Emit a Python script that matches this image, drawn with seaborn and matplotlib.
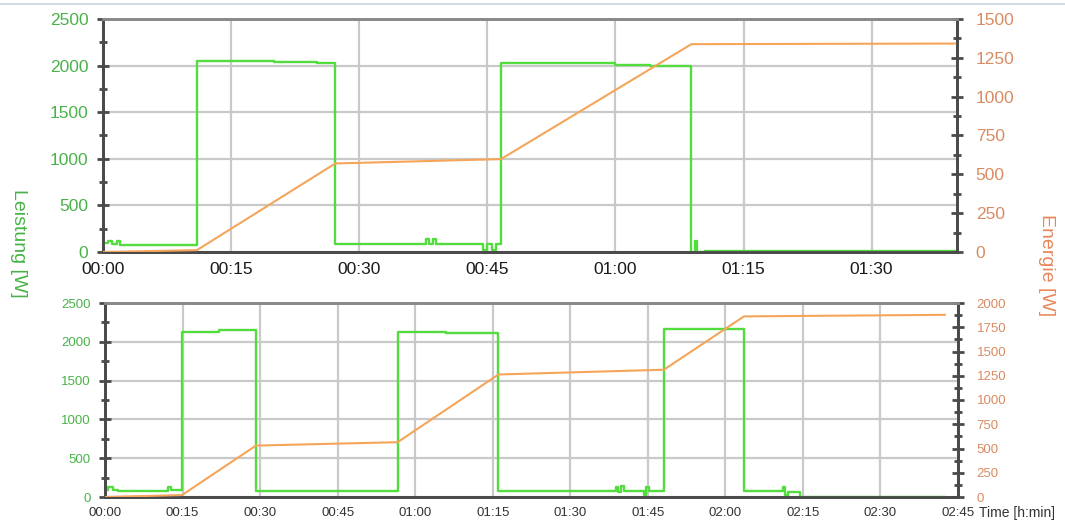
import numpy as np
import pandas as pd
import seaborn as sns
import matplotlib.pyplot as plt
from matplotlib.ticker import MultipleLocator, FuncFormatter
from matplotlib.lines import Line2D

sns.set_style('white')
plt.rcParams['font.family'] = ['Liberation Sans', 'DejaVu Sans']

# top run: power (W) as steps, energy (Wh) as polyline, time in minutes
top_p_time = [0, 0.6, 1.0, 1.6, 2.0, 11.0, 20, 25, 27.2, 37.8, 38.2, 38.6, 39.0,
              44.5, 45.0, 45.6, 46.0, 46.6, 55, 60, 64, 68.9, 69.3, 69.6, 70.5, 100]
top_p_val = [95, 120, 85, 115, 80, 2045, 2040, 2030, 85, 135, 90, 140, 85,
             25, 90, 20, 85, 2030, 2025, 2010, 2000, -10, 120, -5, 8, 8]
top_e_time = [0, 11.0, 27.2, 46.6, 68.9, 99.8]
top_e_val = [0, 12, 570, 598, 1338, 1342]

# bottom run
bot_p_time = [0, 0.5, 1.5, 2.5, 11.5, 12.2, 12.8, 14.9, 22, 29.2, 56.6, 66, 76.1,
              98.8, 99.3, 99.8, 100.4, 104.2, 104.7, 105.3, 108.1, 115, 123.7,
              131.2, 131.6, 132.2, 134.5, 162.5]
bot_p_val = [90, 130, 85, 80, 80, 125, 85, 2125, 2150, 80, 2120, 2110, 80,
             130, 60, 140, 80, 20, 130, 80, 2165, 2160, 80,
             130, 20, 70, 5, 5]
bot_e_time = [0, 14.9, 29.2, 56.6, 76.1, 108.1, 123.6, 162.5]
bot_e_val = [0, 20, 530, 565, 1263, 1312, 1862, 1878]

green = '#52dc3e'
orange = '#f5a55a'
green_txt = '#49b248'
orange_txt = '#d98b62'

fig = plt.figure(figsize=(10.65, 5.23), dpi=100)
fig.add_artist(Line2D([0, 1], [1 - 4 / 523, 1 - 4 / 523], color='#cdd4e0', lw=1.2))


def hhmm(v, pos):
    v = int(round(v))
    return '%02d:%02d' % (v // 60, v % 60)


def style_panel(ax, ax2, xmax, emax, fs_x, fs_y, xcol):
    ax.set_xlim(0, xmax)
    ax.set_ylim(0, 2500)
    ax2.set_ylim(0, emax)
    ax.xaxis.set_major_locator(MultipleLocator(15))
    ax.xaxis.set_minor_locator(MultipleLocator(7.5))
    ax.xaxis.set_major_formatter(FuncFormatter(hhmm))
    ax.yaxis.set_major_locator(MultipleLocator(500))
    ax.yaxis.set_minor_locator(MultipleLocator(250))
    ax2.yaxis.set_major_locator(MultipleLocator(250))
    ax2.yaxis.set_minor_locator(MultipleLocator(125))
    ax.grid(True, which='major', color='#c9c9c9', lw=1.6)
    ax.set_axisbelow(True)
    for a in (ax, ax2):
        for s in a.spines.values():
            s.set_visible(True)
            s.set_color('#4a4a4a')
            s.set_linewidth(2)
        a.spines['top'].set_color('#8a8a8a')
    ax.tick_params(axis='x', which='major', direction='inout', length=9, width=2,
                   color='#4a4a4a', labelsize=fs_x, labelcolor=xcol, pad=3)
    ax.tick_params(axis='x', which='minor', direction='inout', length=6, width=2,
                   color='#4a4a4a')
    ax.tick_params(axis='y', which='major', direction='inout', length=9, width=2,
                   color='#4a4a4a', labelsize=fs_y, labelcolor=green_txt, pad=6)
    ax.tick_params(axis='y', which='minor', direction='inout', length=6, width=2,
                   color='#4a4a4a')
    ax2.tick_params(axis='y', which='major', direction='inout', length=9, width=2,
                    color='#4a4a4a', labelsize=fs_y, labelcolor=orange_txt, pad=9)
    ax2.tick_params(axis='y', which='minor', direction='inout', length=6, width=2,
                    color='#4a4a4a')
    ax.set_xlabel('')
    ax.set_ylabel('')
    ax2.set_ylabel('')


###top panel###
ax_t = fig.add_axes([103 / 1065, 1 - 252 / 523, 854 / 1065, 233 / 523])
ax_t2 = ax_t.twinx()
sns.lineplot(x=top_p_time, y=top_p_val, ax=ax_t, color=green, lw=1.7,
             drawstyle='steps-post', zorder=3)
sns.lineplot(x=top_e_time, y=top_e_val, ax=ax_t2, color=orange, lw=1.5, zorder=3)
style_panel(ax_t, ax_t2, 100, 1500, 12.5, 12.5, '#1a1a1a')
ax_t.set_xticks([0, 15, 30, 45, 60, 75, 90])

###bottom panel###
ax_b = fig.add_axes([105 / 1065, 1 - 497 / 523, 853 / 1065, 194 / 523])
ax_b2 = ax_b.twinx()
sns.lineplot(x=bot_p_time, y=bot_p_val, ax=ax_b, color=green, lw=1.7,
             drawstyle='steps-post', zorder=3)
sns.lineplot(x=bot_e_time, y=bot_e_val, ax=ax_b2, color=orange, lw=1.5, zorder=3)
style_panel(ax_b, ax_b2, 165, 2000, 9.5, 9.5, '#333333')

#axis labels
fig.text(18 / 1065, 1 - 243 / 523, 'Leistung [W]', rotation=270, color=green_txt,
         fontsize=14, ha='center', va='center')
fig.text(1047 / 1065, 1 - 265 / 523, 'Energie [W]', rotation=270, color='#e8875a',
         fontsize=14, ha='center', va='center')
fig.text(979 / 1065, 1 - 513 / 523, 'Time [h:min]', color='#333333', fontsize=10,
         ha='left', va='center')

fig.savefig('out.png', dpi=100)
